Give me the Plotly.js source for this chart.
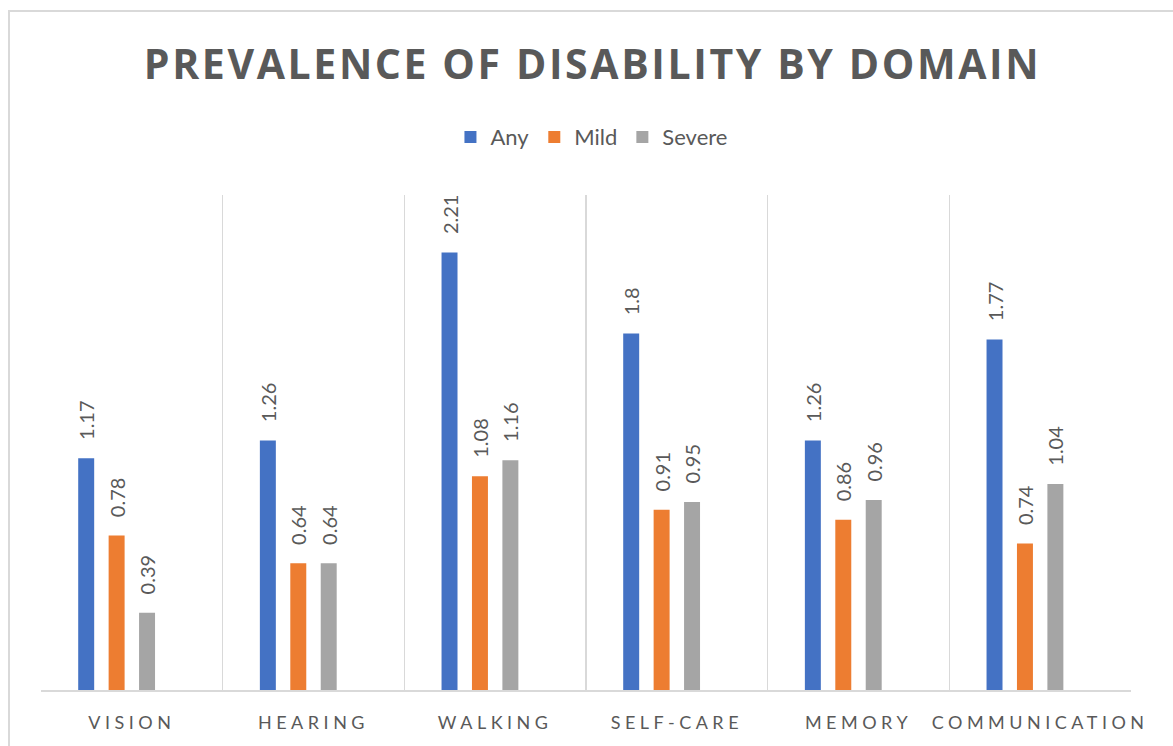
<!DOCTYPE html>
<html>
<head>
<meta charset="utf-8">
<script src="https://cdn.plot.ly/plotly-3.0.1.min.js"></script>
<style>
  html, body { margin: 0; padding: 0; background: #fff; }
  #chart { width: 1173px; height: 746px; }
  .gtitle { letter-spacing: 2.6px; }
  .xtick text { letter-spacing: 4.5px; }
</style>
</head>
<body>
<div id="chart"></div>
<script>
const categories = ["VISION", "HEARING", "WALKING", "SELF-CARE", "MEMORY", "COMMUNICATION"];
const anyValues = [1.17, 1.26, 2.21, 1.8, 1.26, 1.77];
const mildValues = [0.78, 0.64, 1.08, 0.91, 0.86, 0.74];
const severeValues = [0.39, 0.64, 1.16, 0.95, 0.96, 1.04];
const emptyValues = [null, null, null, null, null, null];
const seriesNames = ["Any", "Mild", "Severe"];
const seriesColors = ["#4472C4", "#ED7D31", "#A5A5A5"];

const labelFont = { family: "Lato, sans-serif", size: 20, color: "#595959" };

function barTrace(name, values, color) {
  return {
    type: "bar",
    name: name,
    x: categories,
    y: values,
    text: values.map(v => v === null ? "" : "\u00a0\u00a0\u00a0" + String(v)),
    textposition: "outside",
    textangle: -90,
    constraintext: "none",
    cliponaxis: false,
    textfont: labelFont,
    marker: { color: color },
    hoverinfo: "x+y+name"
  };
}

const data = [
  barTrace(seriesNames[0], anyValues, seriesColors[0]),
  barTrace(seriesNames[1], mildValues, seriesColors[1]),
  barTrace(seriesNames[2], severeValues, seriesColors[2]),
  Object.assign(barTrace("", emptyValues, "rgba(0,0,0,0)"), { showlegend: false })
];

const layout = {
  width: 1173,
  height: 746,
  paper_bgcolor: "#ffffff",
  plot_bgcolor: "#ffffff",
  margin: { l: 41, r: 42, t: 195, b: 56 },
  barmode: "group",
  bargap: 0.33,
  bargroupgap: 0.475,
  title: {
    text: "<b>PREVALENCE OF DISABILITY BY DOMAIN</b>",
    font: { family: "Open Sans, sans-serif", size: 41, color: "#595959" },
    x: 0.506, xref: "paper", xanchor: "center",
    y: 0.914, yref: "container", yanchor: "middle"
  },
  legend: {
    orientation: "h",
    x: 0.505, xanchor: "center",
    y: 1.117, yanchor: "middle",
    font: { family: "Lato, sans-serif", size: 22, color: "#595959" },
    itemclick: false
  },
  xaxis: {
    type: "category",
    tickson: "boundaries",
    showgrid: true,
    gridcolor: "#d9d9d9",
    gridwidth: 1.5,
    showline: true,
    linecolor: "#d9d9d9",
    linewidth: 2,
    ticks: "",
    ticklabelstandoff: 15,
    tickfont: { family: "Lato, sans-serif", size: 18, color: "#595959" },
    fixedrange: true
  },
  yaxis: {
    range: [0, 2.5],
    showgrid: false,
    showticklabels: false,
    zeroline: false,
    showline: false,
    ticks: "",
    fixedrange: true
  },
  shapes: [{
    type: "rect",
    xref: "paper", yref: "paper",
    x0: (9 - 41) / 1090, x1: (1200 - 41) / 1090,
    y0: -(760 - 690) / 495, y1: 1 + (195 - 11) / 495,
    line: { color: "#d9d9d9", width: 2 },
    fillcolor: "rgba(0,0,0,0)",
    layer: "below"
  }],
  showlegend: true
};

Plotly.newPlot("chart", data, layout, { displayModeBar: false, staticPlot: true });
</script>
</body>
</html>
